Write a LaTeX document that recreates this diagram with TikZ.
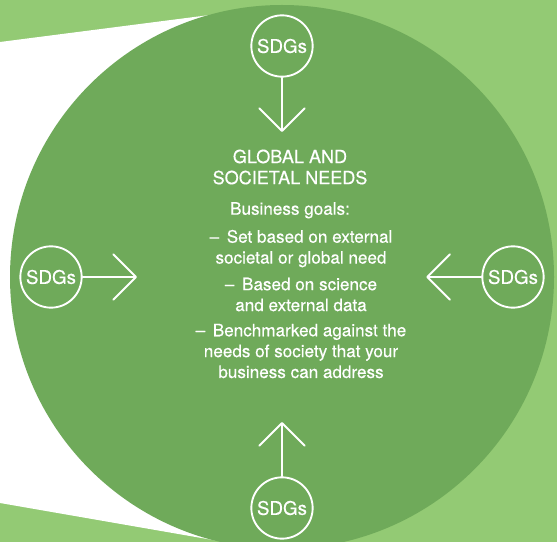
\documentclass[tikz,border=0pt]{standalone}
\usepackage{fontspec}
\setmainfont[FakeBold=0.4]{TeX Gyre Heros}
\usetikzlibrary{positioning,calc,arrows.meta}

\definecolor{leafpale}{RGB}{147,202,116}
\definecolor{leafdeep}{RGB}{111,170,90}

\tikzset{
	sdg/.style={circle,draw=white,line width=1.6pt,minimum size=1.84cm,inner sep=0pt,
		text=white,font=\fontsize{16}{18}\selectfont},
	feed/.style={draw=white,line width=1.6pt,line cap=round,
		-{Straight Barb[round,length=0.68cm,width=1.36cm]}},
	blurb/.style={text=white,align=center,font=\fontsize{14.6}{17.8}\selectfont,inner sep=0pt},
}

\begin{document}
\begin{tikzpicture}[x=0.03cm,y=-0.03cm]
		\useasboundingbox (0,0) rectangle (557,542);
		\clip (0,0) rectangle (557,542);
		\fill[leafpale] (0,0) rectangle (557,542);
		\fill[white] (0,42) -- (282,5.7) -- (282,552) -- (0,503) -- cycle;
		%
		\coordinate (hub) at (282,277);
		\fill[leafdeep] (hub) circle[radius=272];
		%
		\node[sdg] (sdgT) at ($(hub)+(0,-231)$) {SDGs};
		\node[sdg] (sdgL) at ($(hub)+(-231,0)$) {SDGs};
		\node[sdg] (sdgR) at ($(hub)+(231,0)$) {SDGs};
		\node[sdg] (sdgB) at ($(hub)+(0,231)$) {SDGs};
		\coordinate (tipT) at ($(hub)!0.628!(sdgT)$);
		\coordinate (tipL) at ($(hub)!0.628!(sdgL)$);
		\coordinate (tipR) at ($(hub)!0.625!(sdgR)$);
		\coordinate (tipB) at ($(hub)!0.628!(sdgB)$);
		\draw[feed] (sdgT) -- (tipT);
		\draw[feed] (sdgL) -- (tipL);
		\draw[feed] (sdgR) -- (tipR);
		\draw[feed] (sdgB) -- (tipB);
		%
		\node[blurb,font=\fontsize{15.4}{18}\selectfont] (needs) at (290,167) {GLOBAL AND\\SOCIETAL NEEDS};
		\node[blurb,below=0.52cm of needs] (goals) {Business goals:};
		\node[blurb,below=0.33cm of goals,xshift=0.33cm] (goal1) {–\, Set based on external\\societal or global need};
		\node[blurb,below=0.3cm of goal1] (goal2) {–\, Based on science\\and external data};
		\node[blurb,below=0.36cm of goal2] (goal3) {–\, Benchmarked against the\\needs of society that your\\business can address};
\end{tikzpicture}
\end{document}
